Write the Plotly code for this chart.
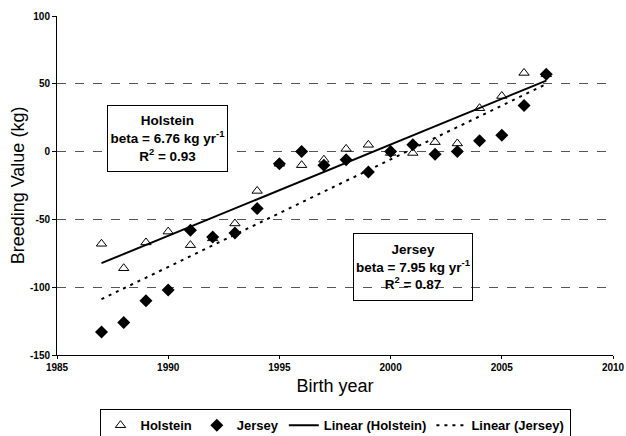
import numpy as np
import plotly.graph_objects as go

years = [1987, 1988, 1989, 1990, 1991, 1992, 1993, 1994, 1995, 1996, 1997,
         1998, 1999, 2000, 2001, 2002, 2003, 2004, 2005, 2006, 2007]
holstein = [-68, -86, -67, -59, -69, -64, -53, -29, -9, -10, -6,
            2, 5, -1, -1, 7, 6, 32, 41, 58, 57]
jersey = [-133, -126, -110, -102, -58, -63, -60, -42, -9, 0, -10,
          -6, -15, 0, 5, -2, 0, 8, 12, 34, 57]
x_ticks = [1985, 1990, 1995, 2000, 2005, 2010]
y_ticks = [-150, -100, -50, 0, 50, 100]

yr = np.array(years, dtype=float)
ph = np.polyfit(yr, np.array(holstein, dtype=float), 1)
pj = np.polyfit(yr, np.array(jersey, dtype=float), 1)
tx = [years[0], years[-1]]

font = "Liberation Sans"

fig = go.Figure()
fig.add_trace(go.Scatter(x=years, y=holstein, mode="markers", name="<b>Holstein</b>",
                         marker=dict(symbol="triangle-up-open", size=9, color="black",
                                     line=dict(width=1, color="black"))))
fig.add_trace(go.Scatter(x=years, y=jersey, mode="markers", name="<b>Jersey</b>",
                         marker=dict(symbol="diamond", size=10, color="black")))
fig.add_trace(go.Scatter(x=tx, y=list(np.polyval(ph, tx)), mode="lines",
                         name="<b>Linear (Holstein)</b>", line=dict(color="black", width=2)))
fig.add_trace(go.Scatter(x=tx, y=list(np.polyval(pj, tx)), mode="lines",
                         name="<b>Linear (Jersey)</b>", line=dict(color="black", width=2, dash="3px,5px")))

fig.add_annotation(x=1989.95, y=9.7, xref="x", yref="y", showarrow=False,
                   text="<b>Holstein</b><br><b>beta = 6.76 kg yr<sup>-1</sup></b><br><b>R<sup>2</sup> = 0.93</b>",
                   font=dict(family=font, size=13.5, color="black"),
                   bordercolor="black", borderwidth=1, borderpad=0,
                   bgcolor="white", width=119, height=65, align="center")
fig.add_annotation(x=2001.0, y=-85.1, xref="x", yref="y", showarrow=False,
                   text="<b>Jersey</b><br><b>beta = 7.95 kg yr<sup>-1</sup></b><br><b>R<sup>2</sup> = 0.87</b>",
                   font=dict(family=font, size=13.5, color="black"),
                   bordercolor="black", borderwidth=1, borderpad=0,
                   bgcolor="rgba(0,0,0,0)", width=118, height=66, align="center")

fig.update_layout(
    width=626, height=436,
    margin=dict(l=57, r=13, t=16, b=81, autoexpand=False),
    paper_bgcolor="white", plot_bgcolor="white",
    font=dict(family=font, color="black"),
    showlegend=True,
    legend=dict(orientation="h", x=0.50, xanchor="center", y=-0.16, yanchor="top",
                bordercolor="black", borderwidth=1, bgcolor="white",
                font=dict(family=font, size=13, color="black"),
                itemwidth=30, tracegroupgap=0),
    xaxis=dict(range=[1985, 2010], tickvals=x_ticks,
               ticktext=["<b>%d</b>" % v for v in x_ticks], showgrid=False,
               showline=True, linecolor="black", linewidth=1,
               ticks="outside", ticklen=3, tickcolor="black",
               tickfont=dict(family=font, size=10, color="black"),
               title=dict(text="Birth year", font=dict(family=font, size=18), standoff=7),
               zeroline=False, automargin=False),
    yaxis=dict(range=[-150, 100], tickvals=y_ticks,
               ticktext=["<b>%d</b>" % v for v in y_ticks],
               showgrid=True, gridcolor="#555555",
               griddash="dash", gridwidth=1,
               showline=True, linecolor="black", linewidth=1,
               ticks="outside", ticklen=4, tickcolor="black",
               tickfont=dict(family=font, size=10, color="black"),
               title=dict(text="Breeding Value (kg)", font=dict(family=font, size=18), standoff=0),
               zeroline=False, automargin=False),
)

fig.write_html("out.html", config={"displayModeBar": False},
               post_script="document.body.style.margin='0';document.body.style.padding='0';")
